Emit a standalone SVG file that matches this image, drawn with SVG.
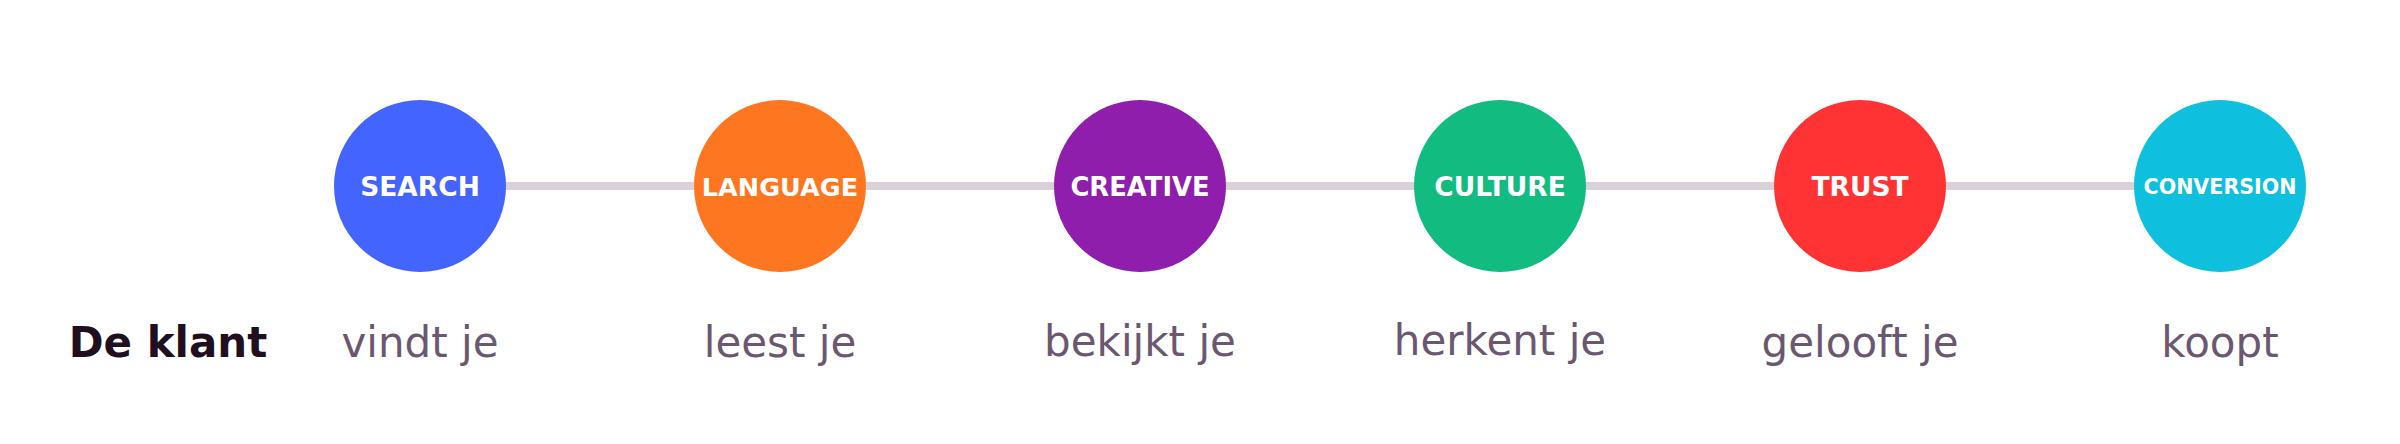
<svg xmlns="http://www.w3.org/2000/svg" width="2400" height="444" viewBox="0 0 2400 444">
<style>
.lbl{font-family:"DejaVu Sans",sans-serif;font-weight:bold;fill:#ffffff;text-anchor:middle;font-size:26.5px}
.sub{font-family:"DejaVu Sans",sans-serif;fill:#6b5870;text-anchor:middle;font-size:42px}
.head{font-family:"DejaVu Sans",sans-serif;font-weight:bold;fill:#1f0f1f;text-anchor:middle;font-size:42px}
.conn{stroke:#d9d0da;stroke-width:8;fill:none}
</style>
<rect width="2400" height="444" fill="#ffffff"/>
<g id="connectors">
<line class="conn" x1="420" y1="186" x2="2220" y2="186"/>
</g>
<g id="search"><circle cx="420" cy="186" r="86" fill="#4364ff"/><text class="lbl" x="420" y="196">SEARCH</text></g>
<g id="language"><circle cx="780" cy="186" r="86" fill="#ff7620"/><text class="lbl" x="780" y="196" style="font-size:25.5px">LANGUAGE</text></g>
<g id="creative"><circle cx="1140" cy="186" r="86" fill="#8e1eab"/><text class="lbl" x="1140" y="196" style="font-size:25.8px">CREATIVE</text></g>
<g id="culture"><circle cx="1500" cy="186" r="86" fill="#12bb80"/><text class="lbl" x="1500" y="196">CULTURE</text></g>
<g id="trust"><circle cx="1860" cy="186" r="86" fill="#ff3333"/><text class="lbl" x="1860" y="196">TRUST</text></g>
<g id="conversion"><circle cx="2220" cy="186" r="86" fill="#0ec0de"/><text class="lbl" x="2220" y="194" style="font-size:20.6px">CONVERSION</text></g>
<g id="labels">
<text class="head" x="168" y="357">De klant</text>
<text class="sub" x="420" y="357">vindt je</text>
<text class="sub" x="780" y="357">leest je</text>
<text class="sub" x="1140" y="356">bekijkt je</text>
<text class="sub" x="1500" y="355">herkent je</text>
<text class="sub" x="1860" y="357">gelooft je</text>
<text class="sub" x="2220" y="357">koopt</text>
</g>
</svg>
